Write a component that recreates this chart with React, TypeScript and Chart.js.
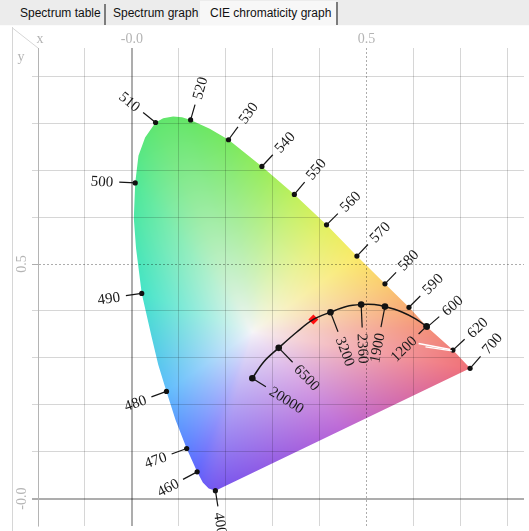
import React, { useEffect, useRef } from 'react';
import { Chart, registerables } from 'chart.js';

Chart.register(...registerables);

// ---------------- data ----------------
const tabLabels = ['Spectrum table', 'Spectrum graph', 'CIE chromaticity graph'];

const xTickValues = [0, 0.5];
const xTickLabels = ['-0.0', '0.5'];
const yTickValues = [0, 0.5];
const yTickLabels = ['-0.0', '0.5'];

// spectral locus outline (from 400 nm round to 700 nm)
const locusX = [0.1781, 0.1639, 0.1513, 0.1392, 0.1169, 0.0932, 0.0738, 0.0563, 0.0422, 0.0211, 0.0089, 0.0042, 0.0072, 0.0141, 0.0283, 0.0506, 0.0669, 0.088, 0.107, 0.1253, 0.166, 0.2061, 0.2772, 0.3464, 0.415, 0.4797, 0.5395, 0.5907, 0.6295, 0.6844, 0.7209];
const locusY = [0.0169, 0.0217, 0.0344, 0.057, 0.1068, 0.1673, 0.2285, 0.2854, 0.3445, 0.4373, 0.5344, 0.5977, 0.673, 0.7306, 0.7696, 0.8017, 0.8108, 0.8143, 0.8129, 0.8072, 0.7886, 0.765, 0.708, 0.6483, 0.5835, 0.5169, 0.4578, 0.4078, 0.3656, 0.3165, 0.2776];

// labelled wavelengths (nm)
const wavelengthLabels = ['400', '460', '470', '480', '490', '500', '510', '520', '530', '540', '550', '560', '570', '580', '590', '600', '620', '700'];
const wavelengthX = [0.1781, 0.1392, 0.1169, 0.0738, 0.0211, 0.0072, 0.0506, 0.1253, 0.2061, 0.2772, 0.3464, 0.415, 0.4797, 0.5395, 0.5907, 0.6295, 0.6844, 0.7209];
const wavelengthY = [0.0169, 0.057, 0.1068, 0.2285, 0.4373, 0.673, 0.8017, 0.8072, 0.765, 0.708, 0.6483, 0.5835, 0.5169, 0.4578, 0.4078, 0.3656, 0.3165, 0.2776];

// black-body (Planckian) locus
const planckX = [0.2568, 0.2814, 0.3131, 0.3517, 0.3869, 0.4234, 0.4572, 0.4888, 0.5169, 0.5395, 0.5768, 0.6048, 0.6281];
const planckY = [0.2565, 0.2918, 0.3213, 0.3551, 0.3819, 0.3973, 0.4093, 0.4135, 0.4135, 0.4093, 0.3973, 0.3831, 0.3671];

// labelled colour temperatures (K)
const temperatureLabels = ['20000', '6500', '3200', '2360', '1900', '1200'];
const temperatureX = [0.2568, 0.3131, 0.4234, 0.4888, 0.5395, 0.6281];
const temperatureY = [0.2565, 0.3213, 0.3973, 0.4135, 0.4093, 0.3671];

// measured sample point
const sampleX = [0.3869];
const sampleY = [0.3819];

// two light streaks near 620 nm
const streakAX = [0.6112, 0.6787];
const streakAY = [0.3304, 0.3177];
const streakBX = [0.6259, 0.6823];
const streakBY = [0.3234, 0.315];

// ---------------- layout / style constants ----------------
const X_MIN = -0.2;
const X_MAX = -0.2 + 491 / 474;
const Y_MAX = 455.3 / 474;
const Y_MIN = Y_MAX - 483 / 474;

const WL_ANGLES = [81, 152, 160, 160, 172, 183, 219, -74, -54, -47, -50, -45, -46.5, -46, -45, -41, -43, -49];
const WL_TICK = 16;
const WL_GAP = 6;
const TEMP_ANGLES = [32, 46, 69, 87.5, 101, 136];
const TEMP_TICKS = [16, 20, 21, 23, 21, 11];
const TEMP_GAP = 6;
const LABEL_FONT = '15px "Liberation Serif"';
const AXIS_FONT = '14px "Liberation Serif"';
const AXIS_COLOR = '#b4b4b4';

// edge colour of the fill at each labelled wavelength, plus the purple line middle and the white centre
const EDGE_COLORS: number[][] = [
  [118, 86, 238], [96, 100, 252], [92, 128, 255], [96, 188, 252], [70, 228, 200], [80, 232, 150],
  [96, 230, 110], [102, 230, 102], [120, 232, 96], [150, 236, 92], [190, 240, 92], [226, 240, 96],
  [250, 234, 104], [250, 204, 112], [248, 172, 116], [244, 146, 120], [240, 126, 124], [240, 112, 120],
];
const PURPLE_MID = [188, 104, 214];
const WHITE = [246, 245, 248];
const WHITE_X = 0.257;
const WHITE_Y = 0.355;
const SAT_GAMMA = 0.85;

const pts = (xs: number[], ys: number[]) => xs.map((x, i) => ({ x, y: ys[i] }));
const lerp = (a: number[], b: number[], t: number) => a.map((v, i) => v + (b[i] - v) * t);

function drawTickLabel(ctx: CanvasRenderingContext2D, px: number, py: number, deg: number, tick: number, gap: number, text: string) {
  const a = (deg * Math.PI) / 180;
  const c = Math.cos(a);
  const s = Math.sin(a);
  ctx.beginPath();
  ctx.moveTo(px, py);
  ctx.lineTo(px + c * tick, py + s * tick);
  ctx.stroke();
  ctx.save();
  ctx.translate(px + c * (tick + gap), py + s * (tick + gap));
  if (c >= -0.02) {
    ctx.rotate(a);
    ctx.textAlign = 'left';
  } else {
    ctx.rotate(a + Math.PI);
    ctx.textAlign = 'right';
  }
  ctx.textBaseline = 'middle';
  ctx.fillText(text, 0, 1);
  ctx.restore();
}

const cieFillPlugin = {
  id: 'cieFill',
  beforeDraw(chart: any) {
    const { ctx } = chart;
    const sx = chart.scales.x;
    const sy = chart.scales.y;
    const p = locusX.map((v, i) => [sx.getPixelForValue(v), sy.getPixelForValue(locusY[i])]);
    const wx = sx.getPixelForValue(WHITE_X);
    const wy = sy.getPixelForValue(WHITE_Y);

    const markerIdx = wavelengthX.map((x, k) => {
      let best = 0;
      let bd = 1e9;
      locusX.forEach((lx, i) => {
        const d = Math.hypot(lx - x, locusY[i] - wavelengthY[k]);
        if (d < bd) { bd = d; best = i; }
      });
      return best;
    });
    const arc: number[] = [0];
    for (let i = 1; i < p.length; i++) arc.push(arc[i - 1] + Math.hypot(p[i][0] - p[i - 1][0], p[i][1] - p[i - 1][1]));
    const vCol: number[][] = p.map((_, i) => {
      for (let k = 0; k < markerIdx.length - 1; k++) {
        const a = markerIdx[k];
        const b = markerIdx[k + 1];
        if (i >= a && i <= b) {
          const t = b === a ? 0 : (arc[i] - arc[a]) / (arc[b] - arc[a]);
          return lerp(EDGE_COLORS[k], EDGE_COLORS[k + 1], t);
        }
      }
      return EDGE_COLORS[EDGE_COLORS.length - 1];
    });
    const bp: number[][] = p.slice();
    const bc: number[][] = vCol.slice();
    const last = p[p.length - 1];
    const first = p[0];
    bp.push([(last[0] + first[0]) / 2, (last[1] + first[1]) / 2]);
    bc.push(PURPLE_MID);
    bp.push(first);
    bc.push(vCol[0]);

    const BINS = 2880;
    const binR = new Float32Array(BINS).fill(-1);
    const binC: number[][] = new Array(BINS);
    for (let i = 0; i < bp.length - 1; i++) {
      const a = bp[i];
      const b = bp[i + 1];
      const n = Math.max(2, Math.ceil(Math.hypot(b[0] - a[0], b[1] - a[1]) * 3));
      for (let s = 0; s <= n; s++) {
        const t = s / n;
        const x = a[0] + (b[0] - a[0]) * t;
        const y = a[1] + (b[1] - a[1]) * t;
        const ang = Math.atan2(y - wy, x - wx);
        const bin = Math.round(((ang + Math.PI) / (2 * Math.PI)) * BINS) % BINS;
        binR[bin] = Math.hypot(x - wx, y - wy);
        binC[bin] = lerp(bc[i], bc[i + 1], t);
      }
    }
    for (let pass = 0; pass < 3; pass++) {
      for (let i = 0; i < BINS; i++) {
        if (binR[i] < 0) {
          const j = (i + BINS - 1) % BINS;
          const k = (i + 1) % BINS;
          if (binR[j] >= 0) { binR[i] = binR[j]; binC[i] = binC[j]; } else if (binR[k] >= 0) { binR[i] = binR[k]; binC[i] = binC[k]; }
        }
      }
    }

    const minX = Math.floor(Math.min(...p.map((q) => q[0]))) - 1;
    const maxX = Math.ceil(Math.max(...p.map((q) => q[0]))) + 1;
    const minY = Math.floor(Math.min(...p.map((q) => q[1]))) - 1;
    const maxY = Math.ceil(Math.max(...p.map((q) => q[1]))) + 1;
    const w = maxX - minX;
    const h = maxY - minY;
    const off = document.createElement('canvas');
    off.width = w;
    off.height = h;
    const octx = off.getContext('2d')!;
    const img = octx.createImageData(w, h);
    for (let j = 0; j < h; j++) {
      const py = minY + j + 0.5;
      for (let i = 0; i < w; i++) {
        const px = minX + i + 0.5;
        const ang = Math.atan2(py - wy, px - wx);
        const bin = Math.round(((ang + Math.PI) / (2 * Math.PI)) * BINS) % BINS;
        const R = binR[bin] > 0 ? binR[bin] : 1;
        const s = Math.min(1, Math.hypot(px - wx, py - wy) / R);
        const f = Math.pow(s, SAT_GAMMA);
        const ec = binC[bin] || WHITE;
        const k = (j * w + i) * 4;
        img.data[k] = WHITE[0] + (ec[0] - WHITE[0]) * f;
        img.data[k + 1] = WHITE[1] + (ec[1] - WHITE[1]) * f;
        img.data[k + 2] = WHITE[2] + (ec[2] - WHITE[2]) * f;
        img.data[k + 3] = 255;
      }
    }
    octx.putImageData(img, 0, 0);
    ctx.save();
    ctx.beginPath();
    p.forEach((q, i) => (i === 0 ? ctx.moveTo(q[0], q[1]) : ctx.lineTo(q[0], q[1])));
    ctx.closePath();
    ctx.clip();
    ctx.drawImage(off, minX, minY);
    ctx.restore();
  },
};

const labelPlugin = {
  id: 'cieLabels',
  afterDatasetsDraw(chart: any) {
    const { ctx } = chart;
    const sx = chart.scales.x;
    const sy = chart.scales.y;
    ctx.save();
    ctx.strokeStyle = '#151515';
    ctx.fillStyle = '#1a1a1a';
    ctx.lineWidth = 1.2;
    ctx.font = LABEL_FONT;
    wavelengthLabels.forEach((t, i) => {
      drawTickLabel(ctx, sx.getPixelForValue(wavelengthX[i]), sy.getPixelForValue(wavelengthY[i]), WL_ANGLES[i], WL_TICK, WL_GAP, t);
    });
    temperatureLabels.forEach((t, i) => {
      drawTickLabel(ctx, sx.getPixelForValue(temperatureX[i]), sy.getPixelForValue(temperatureY[i]), TEMP_ANGLES[i], TEMP_TICKS[i], TEMP_GAP, t);
    });
    ctx.restore();
  },
  afterDraw(chart: any) {
    const { ctx, chartArea } = chart;
    const sx = chart.scales.x;
    const sy = chart.scales.y;
    ctx.save();
    ctx.strokeStyle = '#d6d6d6';
    ctx.lineWidth = 1;
    ctx.beginPath();
    ctx.moveTo(12.5, 0);
    ctx.lineTo(12.5, chart.height);
    ctx.moveTo(12.5, 1);
    ctx.lineTo(chartArea.left, chartArea.top);
    ctx.stroke();
    ctx.fillStyle = AXIS_COLOR;
    ctx.font = AXIS_FONT;
    ctx.textAlign = 'center';
    ctx.textBaseline = 'middle';
    ctx.fillText('x', 40, 12);
    ctx.fillText('y', 21, 30);
    xTickValues.forEach((v, i) => {
      ctx.fillText(xTickLabels[i], sx.getPixelForValue(v), 12);
    });
    yTickValues.forEach((v, i) => {
      ctx.save();
      ctx.translate(22, sy.getPixelForValue(v));
      ctx.rotate(-Math.PI / 2);
      ctx.fillText(yTickLabels[i], 0, 0);
      ctx.restore();
    });
    ctx.restore();
  },
};

const isVal = (c: any, v: number) => c && c.tick && Math.abs(c.tick.value - v) < 1e-9;
const gridColor = (c: any) => (isVal(c, 0) || isVal(c, 0.5) ? 'rgba(0,0,0,0.32)' : 'rgba(0,0,0,0.16)');
const gridWidth = (c: any) => (isVal(c, 0) ? 2 : 1);
const gridDash = (c: any) => (isVal(c, 0.5) ? [2, 2] : []);

export default function App() {
  const ref = useRef<HTMLCanvasElement | null>(null);

  useEffect(() => {
    if (!ref.current) return;
    const chart = new Chart(ref.current, {
      type: 'scatter',
      data: {
        datasets: [
          { data: pts(planckX, planckY), showLine: true, borderColor: '#151515', borderWidth: 1.5, pointRadius: 0, tension: 0.35 },
          { data: pts(streakAX, streakAY), showLine: true, borderColor: '#ffffff', borderWidth: 1.5, pointRadius: 0 },
          { data: pts(streakBX, streakBY), showLine: true, borderColor: '#ffffff', borderWidth: 1.2, pointRadius: 0 },
          { data: pts(wavelengthX, wavelengthY), pointRadius: 2.6, backgroundColor: '#111111', borderWidth: 0 },
          { data: pts(temperatureX, temperatureY), pointRadius: 3.3, backgroundColor: '#111111', borderWidth: 0 },
          { data: pts(sampleX, sampleY), pointStyle: 'rectRot', pointRadius: 5, backgroundColor: '#ff1010', borderWidth: 0 },
        ] as any,
      },
      options: {
        responsive: false,
        animation: false,
        devicePixelRatio: 1,
        events: [],
        layout: { padding: 0 },
        plugins: { legend: { display: false }, tooltip: { enabled: false }, title: { display: false } },
        scales: {
          x: {
            type: 'linear',
            position: 'top',
            min: X_MIN,
            max: X_MAX,
            afterFit: (s: any) => { s.height = 21; },
            ticks: { display: false, stepSize: 0.1, includeBounds: false },
            grid: { color: gridColor, lineWidth: gridWidth, drawTicks: false },
            border: { display: false, dash: gridDash },
          },
          y: {
            type: 'linear',
            position: 'left',
            min: Y_MIN,
            max: Y_MAX,
            afterFit: (s: any) => { s.width = 38; },
            ticks: { display: false, stepSize: 0.1, includeBounds: false },
            grid: { color: gridColor, lineWidth: gridWidth, drawTicks: true, tickLength: 6, tickColor: gridColor },
            border: { display: true, color: 'rgba(0,0,0,0.16)', dash: gridDash },
          },
        } as any,
      },
      plugins: [cieFillPlugin, labelPlugin],
    });
    return () => chart.destroy();
  }, []);

  const tabFont = '12px "Liberation Sans"';
  return (
    <div style={{ position: 'fixed', left: 0, top: 0, width: 529, height: 531, background: '#ffffff', overflow: 'hidden' }}>
      <div style={{ position: 'absolute', left: 0, top: 0, width: 529, height: 25, background: '#ececec', borderBottom: '1px solid #fbfbfb' }}>
        <div style={{ position: 'absolute', left: 200, top: 1, width: 136, height: 24, background: '#f7f7f7' }} />
        <span style={{ position: 'absolute', left: 20, top: 6, font: tabFont, color: '#111' }}>{tabLabels[0]}</span>
        <div style={{ position: 'absolute', left: 104, top: 4, width: 2, height: 21, background: '#7c7c7c' }} />
        <span style={{ position: 'absolute', left: 113, top: 6, font: tabFont, color: '#111' }}>{tabLabels[1]}</span>
        <span style={{ position: 'absolute', left: 210, top: 6, font: tabFont, color: '#111' }}>{tabLabels[2]}</span>
        <div style={{ position: 'absolute', left: 336, top: 2, width: 2, height: 23, background: '#7c7c7c' }} />
      </div>
      <canvas ref={ref} width={529} height={504} style={{ position: 'absolute', left: 0, top: 27, display: 'block' }} />
    </div>
  );
}
